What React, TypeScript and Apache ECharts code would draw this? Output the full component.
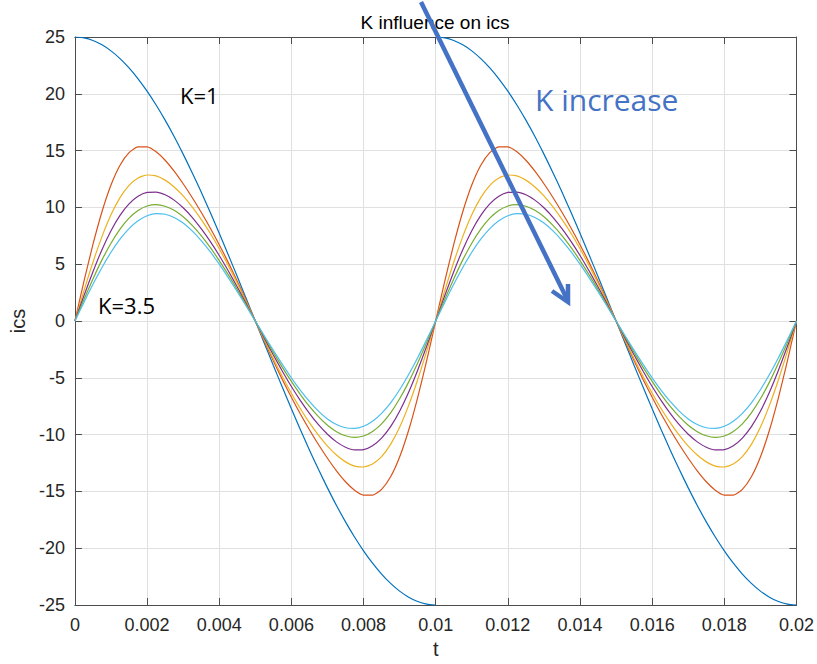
import React, { useEffect, useRef } from "react";
import * as echarts from "echarts";

// time samples (s), 0 .. 0.02
const T = [
  0, 0.00025, 0.0005, 0.00075, 0.001, 0.00125, 0.0015, 0.00175, 0.002, 0.00225,
  0.0025, 0.00275, 0.003, 0.00325, 0.0035, 0.00375, 0.004, 0.00425, 0.0045, 0.00475,
  0.005, 0.00525, 0.0055, 0.00575, 0.006, 0.00625, 0.0065, 0.00675, 0.007, 0.00725,
  0.0075, 0.00775, 0.008, 0.00825, 0.0085, 0.00875, 0.009, 0.00925, 0.0095, 0.00975,
  0.01, 0.01025, 0.0105, 0.01075, 0.011, 0.01125, 0.0115, 0.01175, 0.012, 0.01225,
  0.0125, 0.01275, 0.013, 0.01325, 0.0135, 0.01375, 0.014, 0.01425, 0.0145, 0.01475,
  0.015, 0.01525, 0.0155, 0.01575, 0.016, 0.01625, 0.0165, 0.01675, 0.017, 0.01725,
  0.0175, 0.01775, 0.018, 0.01825, 0.0185, 0.01875, 0.019, 0.01925, 0.0195, 0.01975,
  0.02,
];

const X_TICKS = ["0", "0.002", "0.004", "0.006", "0.008", "0.01", "0.012", "0.014", "0.016", "0.018", "0.02"];
const Y_TICKS = ["-25", "-20", "-15", "-10", "-5", "0", "5", "10", "15", "20", "25"];

// values over one period (t = 0 .. 0.01, 41 samples); the chart shows two identical periods
// K = 1 : drawn as two separate segments (no line at the jump at t = 0.01)
const K1_PERIOD = [
  25, 24.92, 24.69, 24.31, 23.78, 23.1, 22.28, 21.32, 20.23, 19.01,
  17.68, 16.24, 14.69, 13.06, 11.35, 9.57, 7.73, 5.84, 3.91, 1.96,
  0, -1.96, -3.91, -5.84, -7.73, -9.57, -11.35, -13.06, -14.69, -16.24,
  -17.68, -19.01, -20.23, -21.32, -22.28, -23.1, -23.78, -24.31, -24.69, -24.92,
  -25,
];
const K15_PERIOD = [
  0, 3.48, 6.74, 9.62, 11.97, 13.71, 14.82, 15.33, 15.32, 14.89,
  14.15, 13.19, 12.08, 10.87, 9.57, 8.19, 6.72, 5.16, 3.5, 1.77,
  0, -1.77, -3.5, -5.16, -6.72, -8.19, -9.57, -10.87, -12.08, -13.19,
  -14.15, -14.89, -15.32, -15.33, -14.82, -13.71, -11.97, -9.62, -6.74, -3.48,
  0,
];
const K2_PERIOD = [
  0, 2.65, 5.17, 7.43, 9.35, 10.86, 11.94, 12.59, 12.85, 12.77,
  12.4, 11.8, 11.01, 10.05, 8.95, 7.72, 6.36, 4.89, 3.32, 1.68,
  0, -1.68, -3.32, -4.89, -6.36, -7.72, -8.95, -10.05, -11.01, -11.8,
  -12.4, -12.77, -12.85, -12.59, -11.94, -10.86, -9.35, -7.43, -5.17, -2.65,
  0,
];
const K25_PERIOD = [
  0, 2.22, 4.34, 6.28, 7.95, 9.3, 10.31, 10.98, 11.32, 11.35,
  11.11, 10.64, 9.97, 9.13, 8.13, 7.01, 5.77, 4.42, 3.0, 1.51,
  0, -1.51, -3.0, -4.42, -5.77, -7.01, -8.13, -9.13, -9.97, -10.64,
  -11.11, -11.35, -11.32, -10.98, -10.31, -9.3, -7.95, -6.28, -4.34, -2.22,
  0,
];
const K3_PERIOD = [
  0, 1.89, 3.7, 5.38, 6.85, 8.09, 9.05, 9.72, 10.12, 10.24,
  10.1, 9.74, 9.17, 8.42, 7.52, 6.48, 5.32, 4.08, 2.76, 1.39,
  0, -1.39, -2.76, -4.08, -5.32, -6.48, -7.52, -8.42, -9.17, -9.74,
  -10.1, -10.24, -10.12, -9.72, -9.05, -8.09, -6.85, -5.38, -3.7, -1.89,
  0,
];
const K35_PERIOD = [
  0, 1.64, 3.23, 4.71, 6.05, 7.2, 8.13, 8.82, 9.26, 9.45,
  9.4, 9.11, 8.62, 7.93, 7.08, 6.1, 5.0, 3.82, 2.58, 1.3,
  0, -1.3, -2.58, -3.82, -5.0, -6.1, -7.08, -7.93, -8.62, -9.11,
  -9.4, -9.45, -9.26, -8.82, -8.13, -7.2, -6.05, -4.71, -3.23, -1.64,
  0,
];

const COLORS = ["#0072BD", "#D95319", "#EDB120", "#7E2F8E", "#77AC30", "#4DBEEE"];

const FONT = '"Liberation Sans", Arial, Helvetica, sans-serif';
const NOTE_FONT = '"Open Sans", sans-serif';
const AXIS_COLOR = "#4d4d4d";
const LABEL_COLOR = "#262626";
const GRID_COLOR = "#e0e0e0";

export default function App() {
  const ref = useRef<HTMLDivElement | null>(null);

  useEffect(() => {
    if (!ref.current) return;
    const chart = echarts.init(ref.current, undefined, { renderer: "svg" });

    const twoPeriods = (p: number[]) => p.concat(p.slice(1));
    const pairs = (ts: number[], vs: number[]) => ts.map((t, i) => [t, vs[i]]);
    const line = (data: number[][], color: string) => ({
      type: "line",
      data,
      showSymbol: false,
      symbol: "none",
      smooth: 0.2,
      xAxisIndex: 0,
      yAxisIndex: 0,
      lineStyle: { width: 1.2, color },
      itemStyle: { color },
      silent: true,
    });

    const tickCommon = {
      show: true,
      inside: true,
      length: 7,
      lineStyle: { color: AXIS_COLOR, width: 1 },
    };
    const lineCommon = { show: true, onZero: false, lineStyle: { color: AXIS_COLOR, width: 1 } };

    const option: any = {
      animation: false,
      backgroundColor: "#ffffff",
      grid: { left: 74, top: 37, width: 723, height: 572, containLabel: false },
      xAxis: [
        {
          type: "value",
          position: "bottom",
          min: 0,
          max: 0.02,
          interval: 0.002,
          axisLine: lineCommon,
          axisTick: tickCommon,
          axisLabel: {
            color: LABEL_COLOR,
            fontSize: 18,
            fontFamily: FONT,
            margin: 11,
            formatter: (v: number) => X_TICKS[Math.round(v / 0.002)] ?? "",
          },
          splitLine: { show: true, lineStyle: { color: GRID_COLOR, width: 1 } },
          name: "t",
          nameLocation: "middle",
          nameGap: 34,
          nameTextStyle: { color: LABEL_COLOR, fontSize: 20, fontFamily: FONT },
        },
        {
          type: "value",
          position: "top",
          min: 0,
          max: 0.02,
          interval: 0.002,
          axisLine: lineCommon,
          axisTick: tickCommon,
          axisLabel: { show: false },
          splitLine: { show: false },
        },
      ],
      yAxis: [
        {
          type: "value",
          position: "left",
          min: -25,
          max: 25,
          interval: 5,
          axisLine: lineCommon,
          axisTick: tickCommon,
          axisLabel: {
            color: LABEL_COLOR,
            fontSize: 18,
            fontFamily: FONT,
            margin: 10,
            formatter: (v: number) => Y_TICKS[Math.round((v + 25) / 5)] ?? "",
          },
          splitLine: { show: true, lineStyle: { color: GRID_COLOR, width: 1 } },
          name: "ics",
          nameLocation: "middle",
          nameGap: 27,
          nameRotate: 90,
          nameTextStyle: { color: LABEL_COLOR, fontSize: 20, fontFamily: FONT },
        },
        {
          type: "value",
          position: "right",
          min: -25,
          max: 25,
          interval: 5,
          axisLine: lineCommon,
          axisTick: tickCommon,
          axisLabel: { show: false },
          splitLine: { show: false },
        },
      ],
      series: [
        line(pairs(T.slice(0, 41), K1_PERIOD), COLORS[0]),
        line(pairs(T.slice(40, 81), K1_PERIOD), COLORS[0]),
        line(pairs(T, twoPeriods(K15_PERIOD)), COLORS[1]),
        line(pairs(T, twoPeriods(K2_PERIOD)), COLORS[2]),
        line(pairs(T, twoPeriods(K25_PERIOD)), COLORS[3]),
        line(pairs(T, twoPeriods(K3_PERIOD)), COLORS[4]),
        line(pairs(T, twoPeriods(K35_PERIOD)), COLORS[5]),
      ],
      graphic: [
        {
          type: "text",
          x: 435,
          y: 22,
          z: 50,
          style: {
            text: "K influence on ics",
            fontSize: 19,
            fontFamily: FONT,
            fill: "#000000",
            align: "center",
            verticalAlign: "middle",
          },
        },
        {
          type: "text",
          x: 180,
          y: 95,
          z: 50,
          style: {
            text: "K=1",
            fontSize: 22,
            fontFamily: NOTE_FONT,
            fill: "#000000",
            align: "left",
            verticalAlign: "middle",
          },
        },
        {
          type: "text",
          x: 98,
          y: 305,
          z: 50,
          style: {
            text: "K=3.5",
            fontSize: 22,
            fontFamily: NOTE_FONT,
            fill: "#000000",
            align: "left",
            verticalAlign: "middle",
          },
        },
        {
          type: "text",
          x: 535,
          y: 99,
          z: 50,
          style: {
            text: "K increase",
            fontSize: 30,
            fontFamily: NOTE_FONT,
            fill: "#4472C4",
            align: "left",
            verticalAlign: "middle",
          },
        },
        {
          type: "line",
          z: 60,
          shape: { x1: 421, y1: 2, x2: 567, y2: 299 },
          style: { stroke: "#4472C4", lineWidth: 4.5, lineCap: "butt" },
        },
        {
          type: "polyline",
          z: 60,
          shape: { points: [[552, 291], [568, 302], [568, 284]] },
          style: { stroke: "#4472C4", lineWidth: 4.5, fill: null, lineJoin: "miter" },
        },
      ],
    };

    chart.setOption(option);
    return () => chart.dispose();
  }, []);

  return (
    <div
      ref={ref}
      style={{ position: "absolute", left: 0, top: 0, width: 817, height: 664 }}
    />
  );
}
